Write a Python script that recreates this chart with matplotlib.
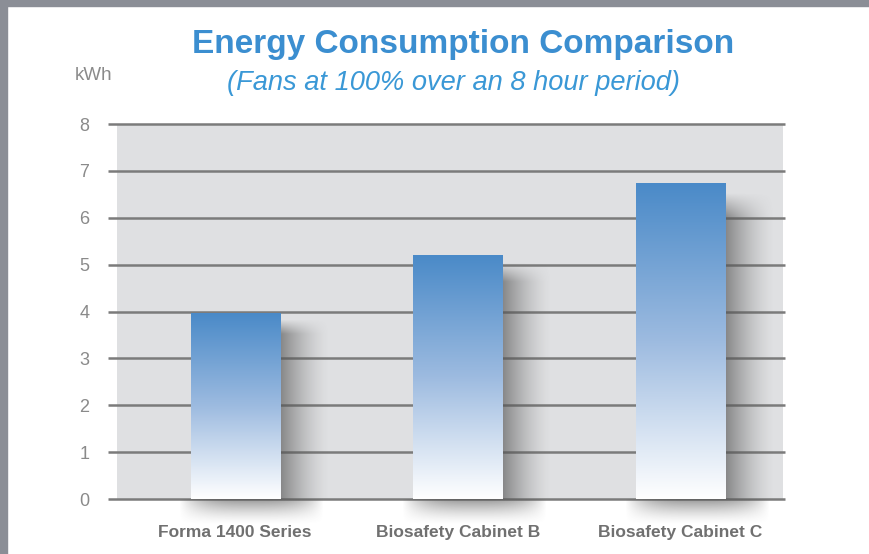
import numpy as np
import matplotlib.pyplot as plt
from matplotlib.colors import LinearSegmentedColormap
from matplotlib.patches import Rectangle
from matplotlib.transforms import blended_transform_factory

categories = ["Forma 1400 Series", "Biosafety Cabinet B", "Biosafety Cabinet C"]
kwh = [3.95, 5.2, 6.74]
yticks = [0, 1, 2, 3, 4, 5, 6, 7, 8]

title_blue = "#3b8ed0"
sub_blue = "#3a98d6"
grey_txt = "#8a8a8a"

fig = plt.figure(figsize=(8.7, 5.54), dpi=100)
fig.patch.set_facecolor("white")

# gray frame at top and left edge
fig.patches.append(Rectangle((0, 0), 7 / 870, 1, transform=fig.transFigure,
                             color="#8b8e96", zorder=0))
fig.patches.append(Rectangle((0, 1 - 6 / 554), 1, 6 / 554, transform=fig.transFigure,
                             color="#8b8e96", zorder=0))

ax = fig.add_axes([117 / 870, 1 - 499 / 554, 666 / 870, 375 / 554])
ax.set_facecolor("#dfe0e2")
for s in ax.spines.values():
    s.set_visible(False)

# gridlines, a bit wider than the gray panel
tr = blended_transform_factory(ax.transAxes, ax.transData)
for y in yticks:
    ax.plot([-0.0135, 1.003], [y, y], transform=tr, color="#7b7b7b", lw=1.8,
            clip_on=False, zorder=1, solid_capstyle="butt")

x = np.arange(len(categories))
bars = ax.bar(x, kwh, width=0.4, color="none", zorder=3)

cmap = LinearSegmentedColormap.from_list("bar", ["#ffffff", "#9dbbe0", "#4a8ac8"])
grad = np.linspace(0, 1, 256).reshape(-1, 1)

for b in bars:
    bx, bw, bh = b.get_x(), b.get_width(), b.get_height()
    # shadow on the right side
    n = 128
    sh = np.zeros((n, n, 4))
    sh[..., :3] = 0.33
    hx = np.linspace(1, 0, n) ** 1.5
    vy = np.clip(np.linspace(0, 1, n) / 0.08, 0, 1)[:, None]
    sh[..., 3] = 0.65 * hx[None, :] * vy
    ax.imshow(sh, extent=[bx + bw, bx + bw + 0.22, 0, bh * 0.97], origin="upper",
              aspect="auto", zorder=2, interpolation="bilinear")
    # soft shadow under the baseline
    bsh = np.zeros((n, n, 4))
    bsh[..., :3] = 0.33
    xx = np.linspace(-1, 1, n)
    hx2 = np.clip(1 - np.abs(xx) ** 3, 0, 1)
    vy2 = np.linspace(1, 0, n) ** 1.5
    bsh[..., 3] = 0.6 * hx2[None, :] * vy2[:, None]
    im = ax.imshow(bsh, extent=[bx - 0.05, bx + bw + 0.2, -0.55, 0], origin="upper",
                   aspect="auto", zorder=2, interpolation="bilinear")
    im.set_clip_on(False)
    # gradient fill of the bar
    ax.imshow(grad, cmap=cmap, extent=[bx, bx + bw, 0, bh], origin="lower",
              aspect="auto", zorder=3, interpolation="bilinear")

ax.set_xlim(-0.53, 2.46)
ax.set_ylim(0, 8)

ax.set_yticks(yticks)
ax.set_yticklabels([str(t) for t in yticks], family="Liberation Sans",
                   fontsize=13, color=grey_txt)
ax.tick_params(axis="y", length=0, pad=20)
ax.set_xticks(x)
ax.set_xticklabels(categories, family="Liberation Sans",
                   fontweight="bold", fontsize=12.5, color="#707070")
ax.tick_params(axis="x", length=0, pad=19)

fig.text(75 / 870, 1 - 75 / 554, "kWh", family="Liberation Sans", fontsize=13.5,
         color=grey_txt, ha="left", va="center")
fig.text(463 / 870, 1 - 44 / 554, "Energy Consumption Comparison",
         family="Liberation Sans", fontweight="bold", fontsize=24,
         color=title_blue, ha="center", va="center")
fig.text(454 / 870, 1 - 83 / 554, "(Fans at 100% over an 8 hour period)",
         family="Liberation Sans", style="italic", fontsize=19.6,
         color=sub_blue, ha="center", va="center")

fig.savefig("out.png", dpi=100, facecolor="white")
